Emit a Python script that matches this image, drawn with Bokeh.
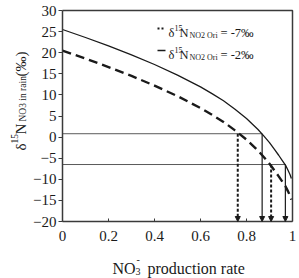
from math import pi

from bokeh.embed import file_html
from bokeh.models import Arrow, FixedTicker, Label, NormalHead
from bokeh.plotting import figure
from bokeh.resources import INLINE

# NO3- production rate (fraction of NO2 converted)
rate = [0.0, 0.1, 0.2, 0.3, 0.4, 0.5, 0.6, 0.65, 0.7, 0.75, 0.8, 0.825, 0.85,
        0.875, 0.9, 0.92, 0.94, 0.955, 0.97, 0.98, 0.99, 0.995]

# d15N of NO3 in rain (permil) for two NO2 source signatures
d15n_src_minus2 = [25.5, 23.6, 21.6, 19.5, 17.2, 14.7, 11.9, 10.3, 8.6, 6.6, 4.4, 3.1, 1.8,
                   0.3, -1.3, -2.8, -4.3, -5.5, -6.7, -7.8, -9.0, -9.8]
d15n_src_minus7 = [20.5, 18.6, 16.6, 14.5, 12.2, 9.7, 6.9, 5.3, 3.6, 1.6, -0.6, -1.9, -3.2,
                   -4.7, -6.3, -7.8, -9.3, -10.5, -11.7, -12.8, -14.0, -14.8]

# observed rain values and where each curve reaches them
observed_levels = [0.8, -6.5]
rate_at_level_minus2 = [0.868, 0.969]
rate_at_level_minus7 = [0.762, 0.907]

x_ticks = [0, 0.2, 0.4, 0.6, 0.8, 1]
x_tick_labels = ["0", "0.2", "0.4", "0.6", "0.8", "1"]
y_ticks = [30, 25, 20, 15, 10, 5, 0, -5, -10, -15, -20]

# axis extents and the pixel box they occupy on the canvas
X0, X1 = 0.0, 1.0
Y0, Y1 = -20.0, 30.0
W, H = 299, 278
LEFT, RIGHT, TOP, BOTTOM = 62, 7, 10, 57

sx = (W - LEFT - RIGHT) / (X1 - X0)
sy = (H - TOP - BOTTOM) / (Y1 - Y0)
x_view = (X0 - LEFT / sx, X1 + RIGHT / sx)
y_view = (Y0 - BOTTOM / sy, Y1 + TOP / sy)

FONT = "Times New Roman"
INK = "#1a1a1a"
FRAME = "#3a3a3a"

p = figure(width=W, height=H, x_range=x_view, y_range=y_view,
           output_backend="svg", toolbar_location=None,
           min_border=0)
p.grid.visible = False
p.background_fill_color = "white"
p.border_fill_color = "white"
p.outline_line_color = None

# axes pinned to the data origin so the whole canvas is drawing area
p.xaxis.fixed_location = Y0
p.yaxis.fixed_location = X0
p.xaxis.bounds = (X0, X1)
p.yaxis.bounds = (Y0, Y1)
p.xaxis.ticker = FixedTicker(ticks=x_ticks)
p.xaxis.major_label_overrides = {t: s for t, s in zip(x_ticks, x_tick_labels)}
p.yaxis.ticker = FixedTicker(ticks=y_ticks)
for ax in (p.xaxis, p.yaxis):
    ax.axis_line_color = FRAME
    ax.axis_line_width = 1.5
    ax.major_tick_line_color = FRAME
    ax.minor_tick_line_color = None
    ax.major_label_text_font = FONT
    ax.major_label_text_font_size = "15px"
    ax.major_label_text_color = INK
p.xaxis.major_tick_in = 3
p.xaxis.major_tick_out = 0
p.xaxis.major_label_standoff = 9
p.yaxis.major_tick_in = 0
p.yaxis.major_tick_out = 4
p.yaxis.major_label_standoff = 2

# top and right sides of the plot box
p.line([X0, X1, X1], [Y1, Y1, Y0], line_color=FRAME, line_width=1.5)

# reference levels (thin grey) running from the y axis to the -2 permil curve
for lvl, xr in zip(observed_levels, rate_at_level_minus2):
    p.line([X0, xr], [lvl, lvl], line_color="#5a5a5a", line_width=1)

# model curves
p.line(rate, d15n_src_minus2, line_color=INK, line_width=1.3)
p.line(rate, d15n_src_minus7, line_color=INK, line_width=2.4, line_dash="9 5")

# drop arrows down to the rate axis
for lvl, xr in zip(observed_levels, rate_at_level_minus2):
    p.add_layout(Arrow(x_start=xr, y_start=lvl, x_end=xr, y_end=Y0,
                       line_color=INK, line_width=1.2,
                       end=NormalHead(size=5, fill_color=INK, line_color=INK)))
for lvl, xr in zip(observed_levels, rate_at_level_minus7):
    p.add_layout(Arrow(x_start=xr, y_start=lvl, x_end=xr, y_end=Y0,
                       line_color=INK, line_width=2, line_dash="3 2",
                       end=NormalHead(size=5, fill_color=INK, line_color=INK)))


# canvas pixel (top-left origin) -> data coordinates
def dx(px):
    return X0 + (px - LEFT) / sx


def dy(py):
    return Y1 - (py - TOP) / sy


def put(text, px, py, size, angle=0.0):
    p.add_layout(Label(x=dx(px), y=dy(py), text=text, angle=angle,
                       text_font=FONT, text_font_size=f"{size}px",
                       text_color=INK, text_align="left",
                       text_baseline="alphabetic"))


# legend
legend_rows = [("= -7\u2030", "2 2", 2.0), ("= -2\u2030", None, 1.3)]
for i, (tail, dash, lw) in enumerate(legend_rows):
    base = 32 + 22 * i
    kw = dict(line_color=INK, line_width=lw)
    if dash:
        kw["line_dash"] = dash
    p.line([dx(157), dx(165)], [dy(base - 4), dy(base - 4)], **kw)
    put("\u03b4", 168, base, 12.5)
    put("15", 174, base - 5, 8)
    put("N", 179, base, 12.5)
    put("NO2 Ori", 189, base + 3, 8)
    put(tail, 220, base, 12.5)

# y axis title, rotated
put("\u03b4", 20, 150, 15, pi / 2)
put("15", 14, 143, 9.5, pi / 2)
put("N", 20, 134, 15, pi / 2)
put("NO3 in rain", 22, 121, 9.5, pi / 2)
put("(\u2030)", 20, 76, 15, pi / 2)

# x axis title
put("NO", 112, 268, 16)
put("3", 135, 271, 10)
put("-", 136, 259, 10)
put("production rate", 147, 268, 16)

open("out.html", "w").write(file_html(p, INLINE))
